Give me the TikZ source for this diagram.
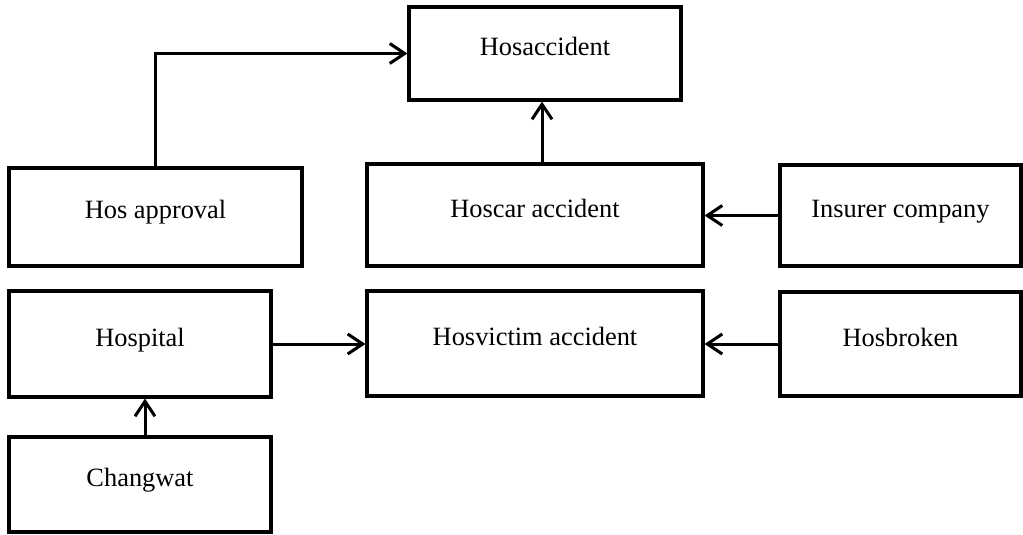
\documentclass[tikz,border=0pt]{standalone}
\usepackage{fontspec}
\setmainfont{Liberation Serif}
\usetikzlibrary{arrows.meta}

\begin{document}
\begin{tikzpicture}[x=0.5pt, y=-0.5pt,
    font=\fontsize{13.2}{16}\selectfont,
    box/.style={draw, line width=1.6pt, inner sep=0pt, text height=10pt, text depth=8pt},
    arr/.style={line width=1.5pt, -{Straight Barb[length=7.5pt, width=10pt, line width=1.5pt]}}]
  \useasboundingbox (0,0) rectangle (1023,535);
  \node[box, minimum width=136pt, minimum height=46.5pt] (hosacc) at (545,53.5) {Hosaccident};
  \node[box, minimum width=146.5pt, minimum height=49pt] (approval) at (155.5,217) {Hos approval};
  \node[box, minimum width=168pt, minimum height=51pt] (hoscar) at (535,215) {Hoscar accident};
  \node[box, minimum width=120.5pt, minimum height=50.5pt] (insurer) at (900.5,215.5) {Insurer company};
  \node[box, minimum width=131pt, minimum height=53pt] (hospital) at (140,344) {Hospital};
  \node[box, minimum width=168pt, minimum height=52.5pt] (hosvictim) at (535,343.5) {Hosvictim accident};
  \node[box, minimum width=120.5pt, minimum height=52pt] (hosbroken) at (900.5,344) {Hosbroken};
  \node[box, minimum width=131pt, minimum height=47.5pt] (changwat) at (140,484.5) {Changwat};
  % connectors
  \draw[arr] (approval.north) |- (hosacc.west);
  \draw[arr] ([xshift=-1.5pt]hosacc.south |- hoscar.north) -- ([xshift=-1.5pt]hosacc.south);
  \draw[arr] (insurer.west) -- (insurer.west -| hoscar.east);
  \draw[arr] (hosbroken.west) -- (hosbroken.west -| hosvictim.east);
  \draw[arr] (hospital.east) -- (hospital.east -| hosvictim.west);
  \draw[arr] ([xshift=2.5pt]changwat.north) -- ([xshift=2.5pt]hospital.south);
\end{tikzpicture}
\end{document}
